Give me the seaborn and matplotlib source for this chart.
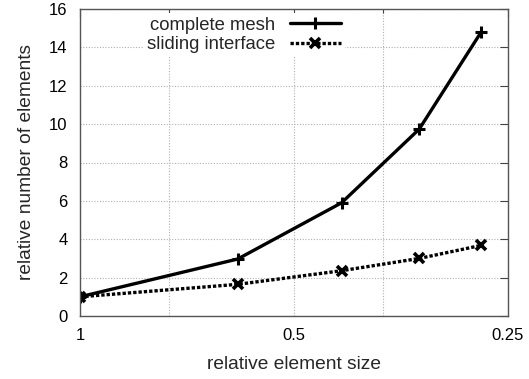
import matplotlib
matplotlib.use("Agg")
import matplotlib.pyplot as plt
import seaborn as sns
import pandas as pd

# Data
element_size = [1.0, 0.6, 0.4286, 0.3333, 0.2727]
complete_mesh = [1.0, 2.97, 5.9, 9.74, 14.8]
sliding_interface = [1.0, 1.65, 2.36, 3.0, 3.68]
series_names = ["complete mesh", "sliding interface"]
x_ticks = [1, 0.5, 0.25]
x_tick_labels = ["1", "0.5", "0.25"]
x_minor = [0.75, 0.375]
y_ticks = list(range(0, 17, 2))

df = pd.DataFrame({
    "size": element_size * 2,
    "n": complete_mesh + sliding_interface,
    "series": [series_names[0]] * len(element_size) + [series_names[1]] * len(element_size),
})

sns.set_style("white")
plt.rcParams["font.family"] = ["Liberation Sans", "DejaVu Sans"]
plt.rcParams["font.size"] = 12

fig = plt.figure(figsize=(5.29, 3.79), dpi=100)
ax = fig.add_axes([80 / 529, 1 - 316 / 379, 428 / 529, 307 / 379])

ax.set_xscale("log", base=2)

sns.lineplot(data=df[df.series == series_names[0]], x="size", y="n", ax=ax,
             color="black", linewidth=2.4, marker="+", markersize=8.5,
             markeredgewidth=2.2, markeredgecolor="black", markerfacecolor="black",
             label=series_names[0], sort=False)
sns.lineplot(data=df[df.series == series_names[1]], x="size", y="n", ax=ax,
             color="black", linewidth=2.4, linestyle=(0, (1, 0.6)), marker="x",
             markersize=7, markeredgewidth=2.6, markeredgecolor="black",
             markerfacecolor="black", label=series_names[1], sort=False)

ax.set_xlim(1, 0.25)
ax.set_ylim(0, 16)
ax.set_xticks(x_ticks)
ax.set_xticklabels(x_tick_labels)
ax.set_xticks(x_minor, minor=True)
ax.set_xticklabels([], minor=True)
ax.set_yticks(y_ticks)

ax.grid(True, which="both", color="#b0b0b0", linestyle=(0, (1, 1.5)), linewidth=0.8)
ax.set_axisbelow(True)

ax.tick_params(axis="both", which="major", direction="in", length=6, width=0.8,
               top=True, right=True, colors="#444444", labelcolor="black",
               labelsize=12, pad=9)
ax.tick_params(axis="both", which="minor", direction="in", length=3, width=0.8,
               top=True, right=True, colors="#444444")
for s in ax.spines.values():
    s.set_color("#555555")
    s.set_linewidth(1.0)

ax.set_xlabel("relative element size", fontsize=13.8, labelpad=9)
ax.set_ylabel("relative number of elements", fontsize=13.8, labelpad=10)

leg = ax.legend(loc="upper right", bbox_to_anchor=(345 / 529, 1 - 13 / 379),
                bbox_transform=fig.transFigure, markerfirst=False, frameon=True,
                facecolor="white", edgecolor="none", framealpha=1.0,
                fancybox=False, borderpad=0.2, borderaxespad=0,
                labelspacing=0.15, handlelength=2.8, handletextpad=0.8,
                fontsize=13.3)

fig.savefig("out.png", dpi=100)
